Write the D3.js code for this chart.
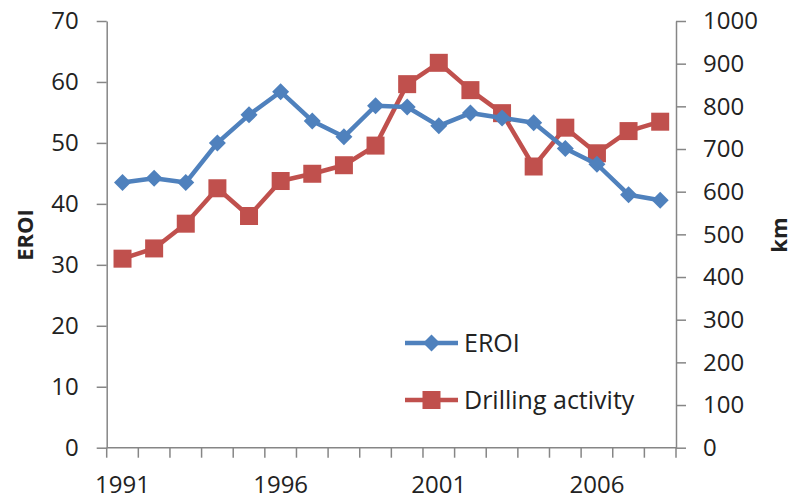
<!DOCTYPE html>
<html>
<head>
<meta charset="utf-8">
<script src="https://cdnjs.cloudflare.com/ajax/libs/d3/7.8.5/d3.min.js"></script>
<style>
  html, body { margin: 0; padding: 0; background: #fff; }
  svg { display: block; }
  text { font-family: "Open Sans", "Liberation Sans", sans-serif; fill: #222; }
</style>
</head>
<body>
<svg id="chart" width="793" height="500"></svg>
<script>
const years = [1991,1992,1993,1994,1995,1996,1997,1998,1999,2000,2001,2002,2003,2004,2005,2006,2007,2008];
const eroi = [43.5, 44.2, 43.5, 50.0, 54.6, 58.4, 53.6, 51.0, 56.1, 55.9, 52.8, 54.9, 54.1, 53.3, 49.1, 46.5, 41.5, 40.6];
const drilling = [443, 467, 525, 608, 543, 625, 642, 662, 708, 852, 902, 838, 784, 659, 750, 690, 742, 764];
const leftTicks = [0,10,20,30,40,50,60,70];
const rightTicks = [0,100,200,300,400,500,600,700,800,900,1000];
const xLabels = [1991, 1996, 2001, 2006];
const seriesNames = ["EROI", "Drilling activity"];
const axisTitles = ["EROI", "km"];

const blue = "#4F81BD", red = "#C0504D", axisCol = "#868686";
const L = 106.7, R = 676, T = 21, B = 447.7;

const svg = d3.select("#chart");
const x = d3.scaleBand().domain(years).range([L, R]).padding(0);
const yL = d3.scaleLinear().domain([0, 70]).range([B, T]);
const yR = d3.scaleLinear().domain([0, 1000]).range([B, T]);
const cx = d => x(d) + x.bandwidth() / 2;

// left axis
const gL = svg.append("g").attr("transform", `translate(${L},0)`)
  .call(d3.axisLeft(yL).tickValues(leftTicks).tickFormat(d3.format("d")).tickSize(10).tickPadding(18).tickSizeOuter(0));
// right axis
const gR = svg.append("g").attr("transform", `translate(${R},0)`)
  .call(d3.axisRight(yR).tickValues(rightTicks).tickFormat(d3.format("d")).tickSize(10).tickPadding(17).tickSizeOuter(0));
[gL, gR].forEach(g => {
  g.select(".domain").attr("stroke", axisCol).attr("stroke-width", 1.5);
  g.selectAll(".tick line").attr("stroke", axisCol).attr("stroke-width", 1.5);
  g.selectAll(".tick text").style("font-size", "24px").attr("fill", "#222")
    .style("font-family", "'Open Sans', sans-serif");
});

// x axis
const gX = svg.append("g");
gX.append("line").attr("x1", L).attr("x2", R).attr("y1", B).attr("y2", B)
  .attr("stroke", axisCol).attr("stroke-width", 1.5);
const boundaries = years.map(d => x(d)).concat([R]);
gX.selectAll("line.tk").data(boundaries).enter().append("line").attr("class", "tk")
  .attr("x1", d => d).attr("x2", d => d).attr("y1", B).attr("y2", B + 10)
  .attr("stroke", axisCol).attr("stroke-width", 1.5);
gX.selectAll("text").data(xLabels).enter().append("text")
  .attr("x", d => cx(d)).attr("y", 493).attr("text-anchor", "middle")
  .style("font-size", "24px").text(d => d);

// axis titles
svg.append("text").attr("transform", `translate(33,235) rotate(-90)`)
  .attr("text-anchor", "middle").style("font-size", "22px").style("font-weight", "bold").text(axisTitles[0]);
svg.append("text").attr("transform", `translate(787,235) rotate(-90)`)
  .attr("text-anchor", "middle").style("font-size", "22px").style("font-weight", "bold").text(axisTitles[1]);

const diamond = "M0,-8.5L8.5,0L0,8.5L-8.5,0Z";
const sq = 18;

// drilling series (right)
const lineR = d3.line().x((d, i) => cx(years[i])).y(d => yR(d));
svg.append("path").datum(drilling).attr("d", lineR).attr("fill", "none")
  .attr("stroke", red).attr("stroke-width", 4.5).attr("stroke-linejoin", "round");
svg.selectAll("rect.dm").data(drilling).enter().append("rect").attr("class", "dm")
  .attr("x", (d, i) => cx(years[i]) - sq / 2).attr("y", d => yR(d) - sq / 2)
  .attr("width", sq).attr("height", sq).attr("fill", red);

// eroi series (left)
const lineL = d3.line().x((d, i) => cx(years[i])).y(d => yL(d));
svg.append("path").datum(eroi).attr("d", lineL).attr("fill", "none")
  .attr("stroke", blue).attr("stroke-width", 4.5).attr("stroke-linejoin", "round");
svg.selectAll("path.em").data(eroi).enter().append("path").attr("class", "em")
  .attr("d", diamond).attr("transform", (d, i) => `translate(${cx(years[i])},${yL(d)})`)
  .attr("fill", blue);

// legend
const leg = [{name: seriesNames[0], color: blue, y: 343, m: "d"}, {name: seriesNames[1], color: red, y: 400, m: "s"}];
leg.forEach(l => {
  const g = svg.append("g");
  g.append("line").attr("x1", 405).attr("x2", 458).attr("y1", l.y).attr("y2", l.y)
    .attr("stroke", l.color).attr("stroke-width", 4.5);
  if (l.m === "d") g.append("path").attr("d", diamond).attr("transform", `translate(431.5,${l.y})`).attr("fill", l.color);
  else g.append("rect").attr("x", 431.5 - sq / 2).attr("y", l.y - sq / 2).attr("width", sq).attr("height", sq).attr("fill", l.color);
  g.append("text").attr("x", 464).attr("y", l.y).attr("dy", "0.35em")
    .style("font-size", "25px").text(l.name);
});
</script>
</body>
</html>
